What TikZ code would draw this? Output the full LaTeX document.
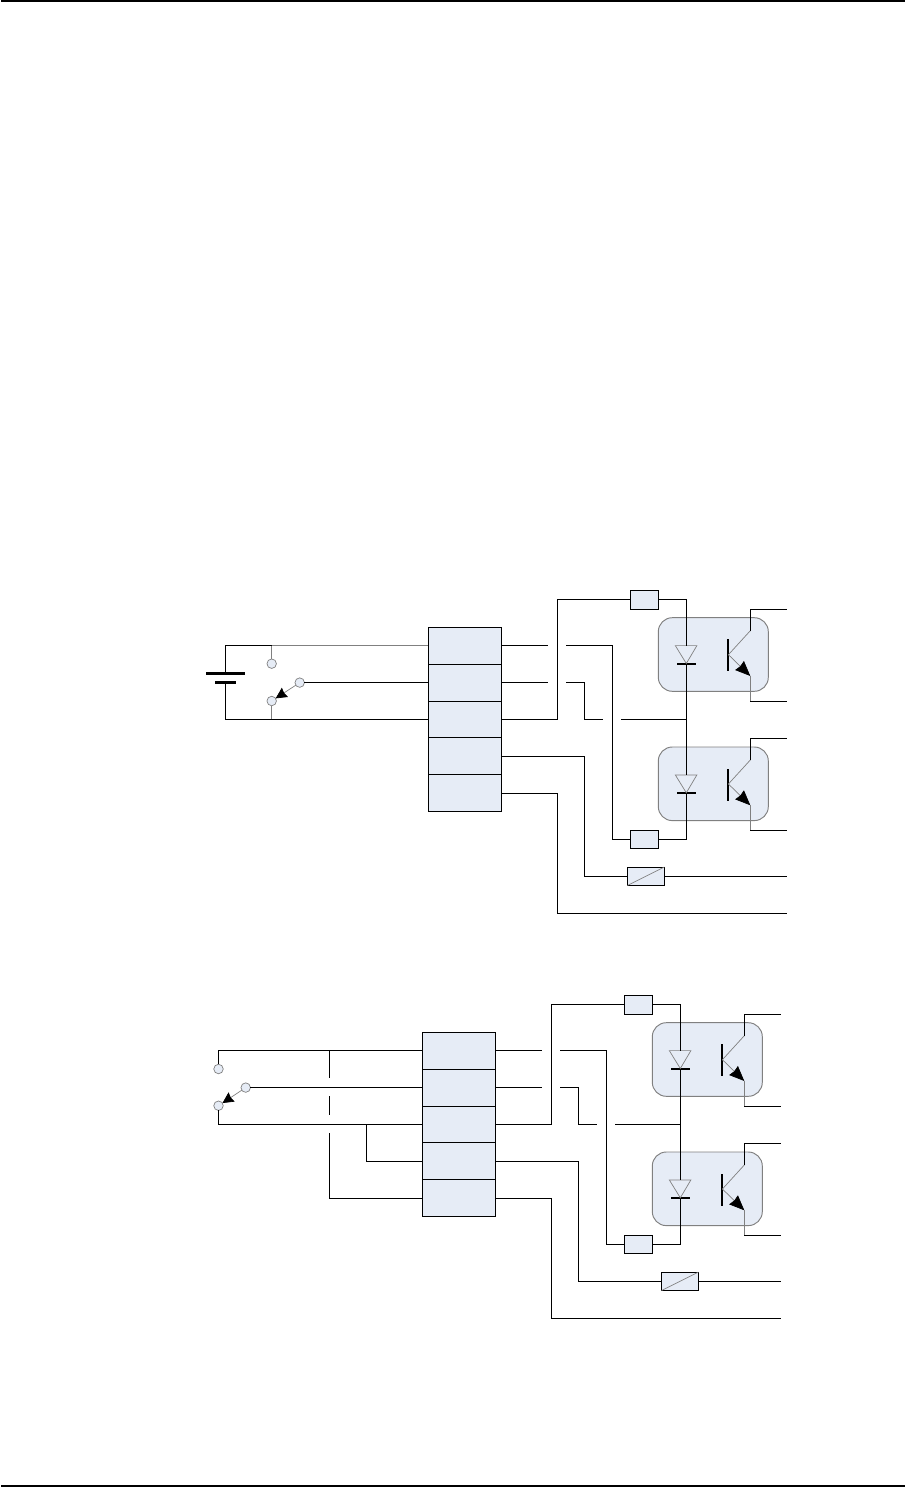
\documentclass[tikz,border=0pt]{standalone}
\usetikzlibrary{arrows.meta}
\definecolor{cellblue}{HTML}{E6ECF6}
\definecolor{wiregrey}{HTML}{808080}

\begin{document}
\begin{tikzpicture}[x=1pt,y=-1pt,line width=0.95pt,
     cell/.style={draw,fill=cellblue,inner sep=0pt,outer sep=0pt,minimum width=73pt,minimum height=36.8pt},
     part/.style={draw,fill=cellblue,inner sep=0pt,outer sep=0pt,minimum height=18.5pt},
     opto/.style={draw=wiregrey,fill=cellblue,rounded corners=14pt,inner sep=0pt,outer sep=0pt,minimum width=110pt,minimum height=73.6pt},
     plate/.style={fill=black,inner sep=0pt,outer sep=0pt,minimum height=2.4pt},
     contact/.style={circle,draw=wiregrey,line width=0.7pt,fill=cellblue,inner sep=0pt,outer sep=0pt,minimum size=9.5pt},
     grey wire/.style={draw=wiregrey},
     tip/.style={-{Stealth[black,length=15pt,width=12.5pt,inset=1pt]}},
     small tip/.style={-{Stealth[black,length=11pt,width=11pt,inset=1pt]}}]

   \useasboundingbox (0,0) rectangle (908,1487);
   \draw[line width=2pt] (1,1) -- (905,1);
   \draw[line width=2pt] (1,1485.7) -- (905,1485.7);

   % the part that both circuits share
   \foreach \blk/\sx/\sy/\ax in {a/0/0/645.8, b/-6/405/686}{
   \begin{scope}[shift={(\sx,\sy)},name prefix=\blk-]
     \foreach \i in {1,...,5}
       \node[cell] (c\i) at (464.8,609+36.8*\i) {};
     \node[part,minimum width=28pt] (res1) at (644.4,599.8) {};
     \node[part,minimum width=28pt] (res2) at (644.4,839.3) {};
     \node[part,minimum width=37pt] (act) at (\ax,876.3) {};
     \draw[grey wire,line width=0.7pt] (act.south west) -- (act.north east);

     \foreach \o/\dy in {1/0,2/129.3}{
       \node[opto] (opto\o) at (713.3,654.5+\dy) {};
       \coordinate (an\o) at (686.3,645.6+\dy);
       \coordinate (ape\o) at (686.3,663.5+\dy);
       \coordinate (col\o) at (750.3,630.7+\dy);
       \coordinate (emi\o) at (750.3,676+\dy);
       \coordinate (base\o) at (728.4,654.7+\dy);
       \coordinate (cout\o) at (787.3,609.3+\dy);
       \coordinate (eout\o) at (787.3,701.3+\dy);
       \node[plate,minimum width=19pt] (bar\o) at (686.3,663.7+\dy) {};
       \node[plate,minimum width=2.4pt,minimum height=32pt] (gate\o) at (728,655.3+\dy) {};
       \draw[grey wire,line width=0.7pt] (675.3,645.6+\dy) -- (696.9,645.6+\dy) -- (ape\o) -- cycle;
       \draw[grey wire,line width=0.7pt] (base\o) -- (col\o);
       \draw[grey wire,line width=0.7pt,tip] (base\o) -- (emi\o);
       \draw[grey wire,line width=0.7pt] (emi\o) -- (emi\o|-eout\o);
       \draw (col\o) |- (cout\o);
       \draw (emi\o|-eout\o) -- (eout\o);
     }

     \coordinate (x1) at (557.7,0);
     \coordinate (x2) at (584.3,0);
     \coordinate (x3) at (612.3,0);
     \coordinate (g1a) at (548,645.8);
     \coordinate (g1b) at (566,645.8);
     \coordinate (g2a) at (548,682.6);
     \coordinate (g2b) at (566,682.6);
     \coordinate (g3a) at (603,719.4);
     \coordinate (g3b) at (621.3,719.4);
     \coordinate (jn) at (an1|-g3b);
     \coordinate (o4) at (787.3,876.3);
     \coordinate (o5) at (787.3,913.3);

     \draw (c1.east) -- (g1a);
     \draw (g1b) -- (x3|-g1b) |- (res2.west);
     \draw (c2.east) -- (g2a);
     \draw (g2b) -- (x2|-g2b) |- (g3a);
     \draw (g3b) -- (jn);
     \draw (c3.east) -- (x1|-c3.east) |- (res1.west);
     \draw (c4.east) -- (x2|-c4.east) |- (act.west);
     \draw (c5.east) -- (x1|-c5.east) |- (o5);
     \draw (act.east) -- (o4);
     \draw (res1.east) -| (an1);
     \draw (bar1.south) -- (an2);
     \draw (bar2.south) |- (res2.east);
   \end{scope}
   }

   % supply and switch of the upper circuit
   \node[plate,minimum width=39pt] (bat1) at (225.2,673.3) {};
   \node[plate,minimum width=21pt] (bat2) at (225.6,682.3) {};
   \node[contact] (st) at (271.7,663.7) {};
   \node[contact] (sm) at (299.7,682.6) {};
   \node[contact] (sl) at (271.7,701) {};
   \coordinate (tee1) at (st|-a-c1.west);
   \coordinate (tee2) at (sl|-a-c3.west);
   \draw (bat1.north) |- (tee1);
   \draw (bat2.south) |- (a-c3.west);
   \draw[grey wire] (tee1) -- (a-c1.west);
   \draw[grey wire,line width=0.7pt] (tee1) -- (st);
   \draw[grey wire,line width=0.7pt] (tee2) -- (sl);
   \draw (sm) -- (a-c2.west);
   \draw[grey wire,line width=0.7pt,small tip] (sm) -- (sl);

   % switch and links of the lower circuit
   \node[contact] (st2) at (218.5,1069) {};
   \node[contact] (sm2) at (245.7,1087.6) {};
   \node[contact] (sl2) at (218.5,1105.7) {};
   \coordinate (d0) at (329.3,1050.8);
   \coordinate (d1) at (329.3,1078.3);
   \coordinate (d2) at (329.3,1096.3);
   \coordinate (d3) at (329.3,1115.3);
   \coordinate (d4) at (329.3,1133.3);
   \coordinate (fork) at (366.3,1124.4);
   \draw (st2.north) |- (b-c1.west);
   \draw (sm2) -- (b-c2.west);
   \draw (sl2.south) |- (b-c3.west);
   \draw (d0) -- (d1);
   \draw (d2) -- (d3);
   \draw (d4) |- (b-c5.west);
   \draw (fork) |- (b-c4.west);
   \draw[grey wire,line width=0.7pt,small tip] (sm2) -- (sl2);
\end{tikzpicture}
\end{document}
